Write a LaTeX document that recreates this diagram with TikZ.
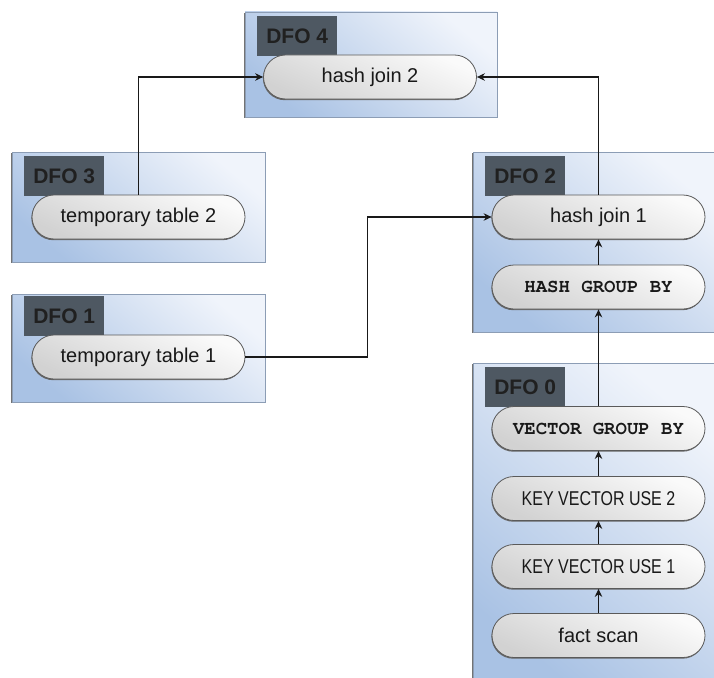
\documentclass[tikz,border=0pt]{standalone}
\usepackage{fontspec}
\setmainfont{Liberation Sans}
\newfontfamily\codefont{texgyrecursor-bold.otf}
\newfontfamily\narrowfont{Liberation Sans}[FakeStretch=0.8]
\usetikzlibrary{arrows.meta,shadows}

\definecolor{boxlow}{HTML}{A9C2E4}
\definecolor{boxhigh}{HTML}{F0F4FB}
\definecolor{boxedge}{HTML}{8C9DB5}
\definecolor{tabfill}{HTML}{4E5862}
\definecolor{tabtext}{HTML}{202020}
\definecolor{pillhigh}{HTML}{FAFAFA}
\definecolor{pilllow}{HTML}{D2D2D2}
\definecolor{pilledge}{HTML}{5A5A5A}

\tikzset{
  dfobox/.style={draw=boxedge, line width=0.8pt, bottom color=boxlow, top color=boxhigh,
    shading angle=-40, inner sep=0pt, minimum width=#1,
    general shadow={shadow xshift=-0.8pt, shadow yshift=-1.4pt, fill=black!55}},
  dfotab/.style={fill=tabfill, text=tabtext, font=\fontsize{21}{24}\selectfont\bfseries,
    minimum width=80pt, minimum height=40pt, inner sep=0pt, anchor=north west},
  pill/.style={draw=pilledge, line width=0.8pt, rounded corners=22pt,
    bottom color=pilllow, top color=pillhigh, shading angle=-25,
    minimum width=213pt, minimum height=44pt, inner sep=0pt, text=black!90,
    font=\fontsize{20}{24}\selectfont,
    general shadow={shadow xshift=-0.6pt, shadow yshift=-1.2pt, fill=black!60}},
  codetext/.style={font=\codefont\fontsize{19}{22}\selectfont},
  narrowtext/.style={font=\narrowfont\fontsize{20}{24}\selectfont},
  flow/.style={draw=black!90, line width=1.2pt, -{Stealth[length=8pt,width=7.5pt]}},
}

\begin{document}
\begin{tikzpicture}[x=1pt, y=-1pt]
\useasboundingbox (0,0) rectangle (714,677);

% DFO containers
\node[dfobox=252pt, minimum height=105pt] (box4) at (371,64.5) {};
\node[dfobox=253pt, minimum height=110pt] (box3) at (138.5,207) {};
\node[dfobox=253pt, minimum height=108pt] (box1) at (138.5,348) {};
\node[dfobox=242pt, minimum height=180pt] (box2) at (594,242) {};
\node[dfobox=242pt, minimum height=318pt] (box0) at (594,522) {};

% DFO labels
\node[dfotab] (tab4) at (257,16)  {DFO 4};
\node[dfotab] (tab3) at (24,156)  {DFO 3};
\node[dfotab] (tab1) at (24,296)  {DFO 1};
\node[dfotab] (tab2) at (485,156) {DFO 2};
\node[dfotab] (tab0) at (485,367) {DFO 0};

% operations
\node[pill] (hj2) at (370,77)    {hash join 2};
\node[pill] (tt2) at (138.5,217) {temporary table 2};
\node[pill] (tt1) at (138.5,357) {temporary table 1};
\node[pill] (hj1) at (598.5,217) {hash join 1};
\node[pill, codetext] (hgb) at (598.5,287) {HASH GROUP BY};
\node[pill, codetext] (vgb) at (598.5,428.5) {VECTOR GROUP BY};
\node[pill, narrowtext] (kv2) at (598.5,498.5) {KEY VECTOR USE 2};
\node[pill, narrowtext] (kv1) at (598.5,566.5) {KEY VECTOR USE 1};
\node[pill] (fs) at (598.5,635.5) {fact scan};

% data flow
\draw[flow] (tt2.north) |- (hj2.west);
\draw[flow] (hj1.north) |- (hj2.east);
\coordinate (bend) at ([xshift=122pt]tt1.east);
\draw[flow] (tt1.east) -- (bend) |- (hj1.west);
\draw[flow] (hgb) -- (hj1);
\draw[flow] (vgb) -- (hgb);
\draw[flow] (kv2) -- (vgb);
\draw[flow] (kv1) -- (kv2);
\draw[flow] (fs) -- (kv1);
\end{tikzpicture}
\end{document}
